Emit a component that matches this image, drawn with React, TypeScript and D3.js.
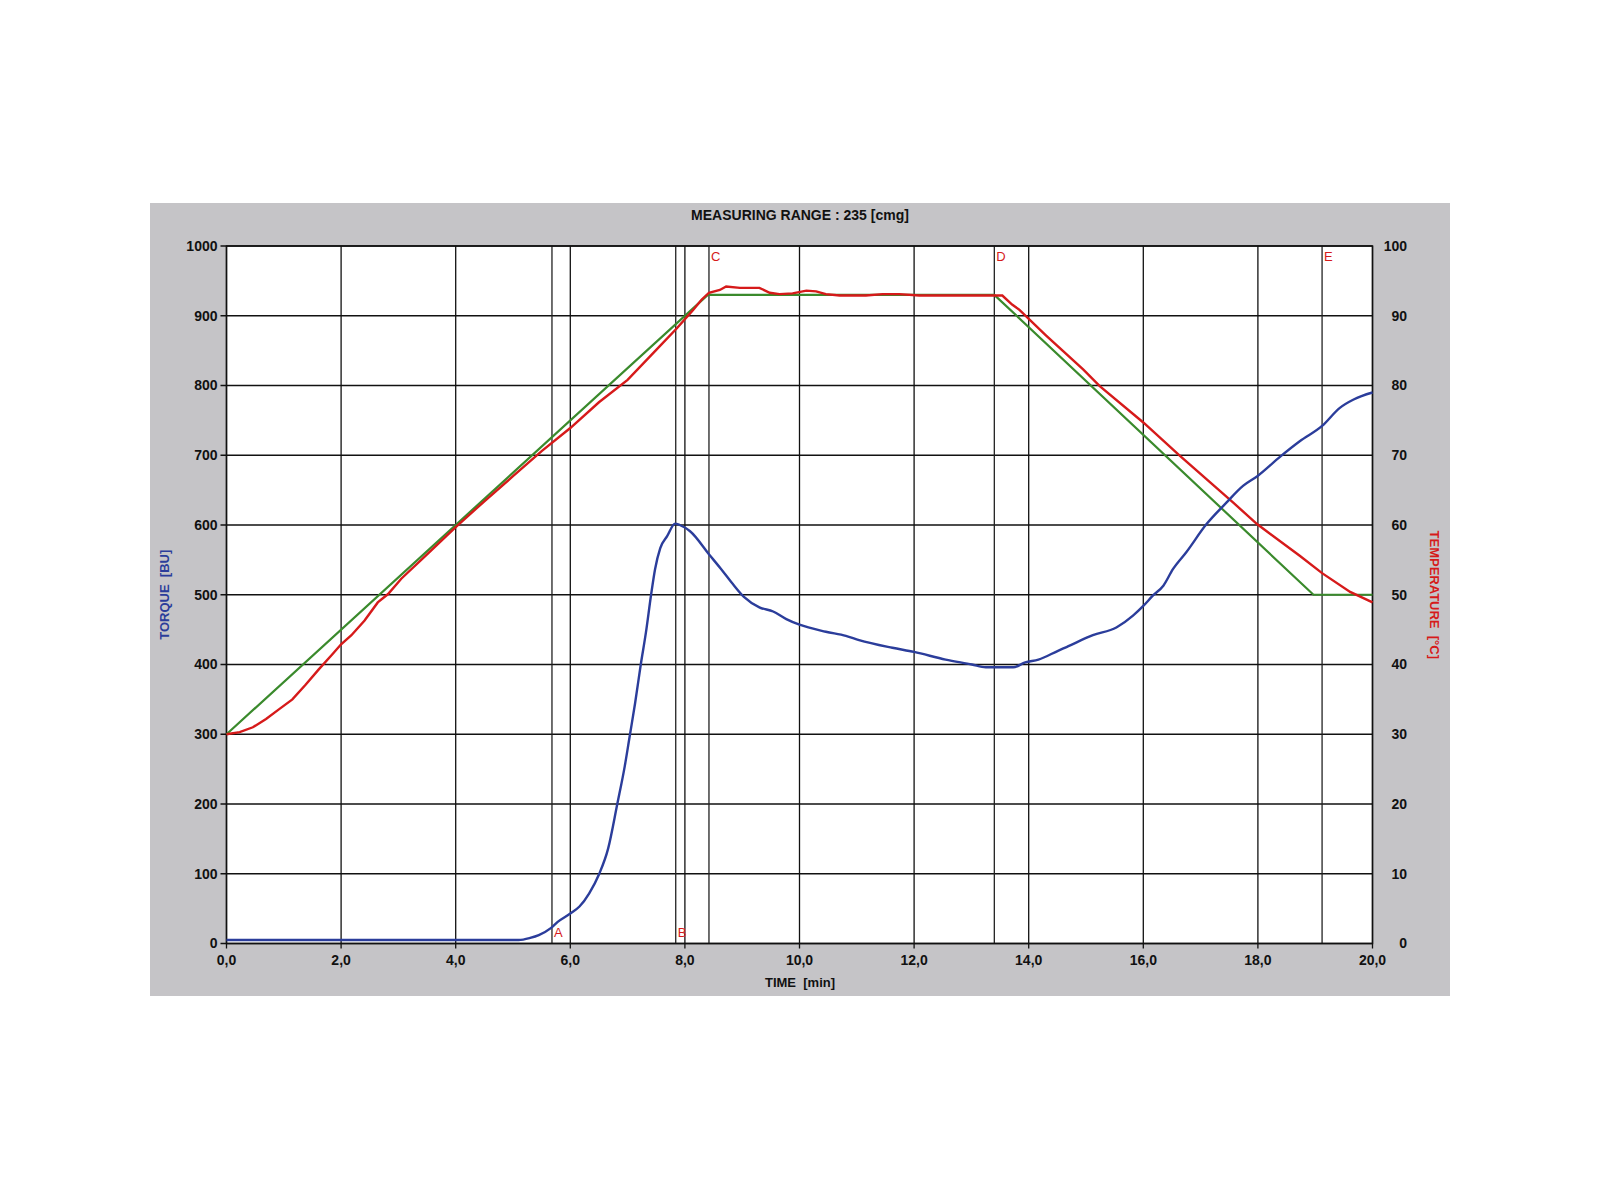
import * as d3 from 'd3';

// Amylograph-style run: torque (blue) and temperature (program = green, measured = red)

const W = 1600;
const H = 1200;
const PANEL = { x: 150, y: 203, w: 1300, h: 793 };
const PLOT = { left: 226.5, right: 1372.5, top: 246, bottom: 943.5 };

const X_TICKS = [0, 2, 4, 6, 8, 10, 12, 14, 16, 18, 20];
const Y_TICKS = [0, 100, 200, 300, 400, 500, 600, 700, 800, 900, 1000];
const T_TICKS = [0, 10, 20, 30, 40, 50, 60, 70, 80, 90, 100];

// event markers [min]
const MARKER_NAMES = ['A', 'B', 'C', 'D', 'E'];
const MARKER_TIMES = [5.68, 7.84, 8.42, 13.4, 19.12];
const MARKER_AT_TOP = [false, false, true, true, true];

// torque [BU]
const TORQUE_T = [
  0, 5.1, 5.3, 5.45, 5.66, 5.78, 6.0, 6.16, 6.33, 6.5, 6.66, 6.82, 6.95, 7.04, 7.13, 7.23, 7.32,
  7.41, 7.48, 7.57, 7.69, 7.83, 7.91, 8.09, 8.43, 8.62, 8.83, 9.03, 9.3, 9.54, 9.77, 10.0, 10.46,
  10.81, 11.04, 11.62, 12.0, 12.55, 13.01, 13.25, 13.73, 13.94, 14.17, 14.52, 14.66, 15.12, 15.53,
  15.82, 16.0, 16.17, 16.35, 16.52, 16.75, 17.1, 17.45, 17.74, 17.99, 18.39, 18.73, 19.12, 19.43,
  19.67, 20.0,
];
const TORQUE_V = [
  5, 5, 8, 12, 22, 31, 43, 53, 72, 99, 136, 200, 254, 299, 344, 400, 446,
  500, 537, 567, 584, 602, 600, 591, 557, 538, 516, 497, 482, 476, 465, 457, 447,
  441, 435, 424, 418, 407, 400, 396, 396, 403, 407, 420, 425, 442, 453,
  470, 484, 499, 513, 537, 561, 601, 632, 656, 670, 698, 720, 742, 768,
  780, 790,
];

// measured temperature [°C]
const TEMP_T = [
  0, 0.23, 0.46, 0.69, 0.92, 1.15, 1.38, 1.61, 1.84, 2.0, 2.18, 2.41, 2.64, 2.82, 3.05, 3.5, 4.0,
  4.5, 5.0, 5.5, 6.0, 6.5, 7.0, 7.5, 7.86, 8.14, 8.29, 8.42, 8.61, 8.72, 8.96, 9.3, 9.48, 9.65,
  9.88, 10.12, 10.29, 10.46, 10.7, 11.16, 11.45, 11.74, 12.09, 13.54, 13.71, 13.83, 14.3, 14.95,
  15.24, 16.0, 16.64, 17.57, 17.99, 18.73, 19.12, 19.61, 20.0,
];
const TEMP_V = [
  30, 30.3, 31, 32.2, 33.6, 35, 37.1, 39.3, 41.4, 42.9, 44.2, 46.3, 48.9, 50.1, 52.3, 55.8, 59.7,
  63.4, 67, 70.6, 73.9, 77.6, 80.8, 85.1, 88.2, 90.8, 92.3, 93.3, 93.7, 94.2, 94, 94, 93.3, 93.1,
  93.2, 93.6, 93.5, 93.1, 92.9, 92.9, 93.1, 93.1, 92.9, 92.9, 91.6, 90.9, 87.2, 82.3,
  79.9, 74.7, 69.9, 63.2, 60.1, 55.6, 53.1, 50.4, 48.9,
];

// programmed temperature [°C]
const PROG_T = [0, 8.4, 13.4, 18.97, 20];
const PROG_V = [30, 93, 93, 50, 50];

const BLUE = '#2b3d9b';
const RED = '#d61a1a';
const GREEN = '#3a8a2c';
const FONT = '"Liberation Sans", Arial, sans-serif';

export default function App() {
  const x = d3.scaleLinear().domain([0, 20]).range([PLOT.left, PLOT.right]);
  const y = d3.scaleLinear().domain([0, 1000]).range([PLOT.bottom, PLOT.top]);
  const yT = d3.scaleLinear().domain([0, 100]).range([PLOT.bottom, PLOT.top]);

  const torqueLine = d3
    .line<number>()
    .x((_, i) => x(TORQUE_T[i]))
    .y((v) => y(v))
    .curve(d3.curveMonotoneX);
  const tempLine = d3
    .line<number>()
    .x((_, i) => x(TEMP_T[i]))
    .y((v) => yT(v));
  const progLine = d3
    .line<number>()
    .x((_, i) => x(PROG_T[i]))
    .y((v) => yT(v));

  const midY = (PLOT.top + PLOT.bottom) / 2;

  return (
    <div style={{ position: 'absolute', left: 0, top: 0 }}>
      <svg width={W} height={H} style={{ display: 'block', background: '#fff' }}>
        <rect x={PANEL.x} y={PANEL.y} width={PANEL.w} height={PANEL.h} fill="#c5c4c7" />
        <rect
          x={PLOT.left}
          y={PLOT.top}
          width={PLOT.right - PLOT.left}
          height={PLOT.bottom - PLOT.top}
          fill="#fff"
        />

        {/* grid */}
        {Y_TICKS.map((v) => (
          <line key={'h' + v} x1={PLOT.left - 6} x2={PLOT.right} y1={y(v)} y2={y(v)} stroke="#111" strokeWidth={1.3} />
        ))}
        {X_TICKS.map((t) => (
          <line key={'v' + t} x1={x(t)} x2={x(t)} y1={PLOT.top} y2={PLOT.bottom + 5} stroke="#111" strokeWidth={1.3} />
        ))}

        {/* event markers */}
        {MARKER_TIMES.map((t, i) => (
          <g key={MARKER_NAMES[i]}>
            <line x1={x(t)} x2={x(t)} y1={PLOT.top} y2={PLOT.bottom} stroke="#222" strokeWidth={1.3} />
            <text
              x={x(t) + 2}
              y={MARKER_AT_TOP[i] ? PLOT.top + 15 : PLOT.bottom - 7}
              fill={RED}
              fontFamily={FONT}
              fontSize={13}
            >
              {MARKER_NAMES[i]}
            </text>
          </g>
        ))}

        <rect
          x={PLOT.left}
          y={PLOT.top}
          width={PLOT.right - PLOT.left}
          height={PLOT.bottom - PLOT.top}
          fill="none"
          stroke="#111"
          strokeWidth={1.5}
        />

        {/* curves */}
        <path d={progLine(PROG_V) ?? ''} fill="none" stroke={GREEN} strokeWidth={2.2} />
        <path d={tempLine(TEMP_V) ?? ''} fill="none" stroke={RED} strokeWidth={2.4} />
        <path d={torqueLine(TORQUE_V) ?? ''} fill="none" stroke={BLUE} strokeWidth={2.4} />

        {/* axis labels */}
        <g fontFamily={FONT} fontWeight="bold" fontSize={14} fill="#111">
          {Y_TICKS.map((v) => (
            <text key={'yl' + v} x={PLOT.left - 9} y={y(v)} dy="0.35em" textAnchor="end">
              {v}
            </text>
          ))}
          {T_TICKS.map((v) => (
            <text key={'tl' + v} x={1407} y={yT(v)} dy="0.35em" textAnchor="end">
              {v}
            </text>
          ))}
          {X_TICKS.map((t) => (
            <text key={'xl' + t} x={x(t)} y={965} textAnchor="middle">
              {t.toFixed(1).replace('.', ',')}
            </text>
          ))}
          <text x={800} y={220} textAnchor="middle" fontSize={14}>
            MEASURING RANGE : 235 [cmg]
          </text>
          <text x={800} y={987} textAnchor="middle" fontSize={13} style={{ whiteSpace: 'pre' }}>
            {'TIME  [min]'}
          </text>
          <text
            transform={`translate(164,${midY}) rotate(-90)`}
            textAnchor="middle"
            dy="0.35em"
            fill={BLUE}
            fontSize={13}
            style={{ whiteSpace: 'pre' }}
          >
            {'TORQUE  [BU]'}
          </text>
          <text
            transform={`translate(1435,${midY}) rotate(90)`}
            textAnchor="middle"
            dy="0.35em"
            fill={RED}
            fontSize={13}
            style={{ whiteSpace: 'pre' }}
          >
            {'TEMPERATURE  [°C]'}
          </text>
        </g>
      </svg>
    </div>
  );
}
